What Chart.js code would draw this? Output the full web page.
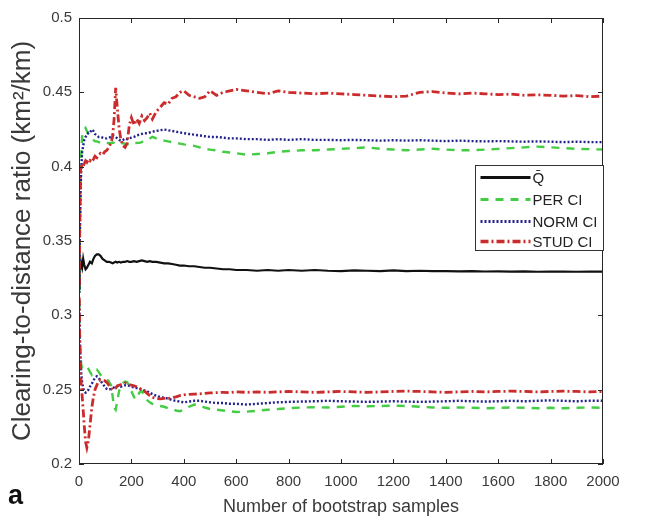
<!DOCTYPE html>
<html>
<head>
<meta charset="utf-8">
<script src="https://cdn.jsdelivr.net/npm/chart.js@4.4.1/dist/chart.umd.min.js"></script>
<style>
  html, body { margin: 0; padding: 0; background: #fff; }
</style>
</head>
<body>
<canvas id="bootChart" width="646" height="522"></canvas>
<script>
// number of bootstrap samples (x)
const samples = [1, 3, 6, 9, 12, 16, 20, 25, 30, 36,
  42, 49, 55, 61, 68, 75, 82, 90, 98, 106,
  114, 122, 128, 134, 140, 146, 153, 160, 168, 176,
  184, 192, 200, 210, 220, 230, 240, 250, 260, 270,
  280, 295, 310, 325, 340, 355, 370, 385, 400, 420,
  440, 460, 480, 500, 525, 550, 575, 600, 640, 680,
  720, 760, 800, 850, 900, 950, 1000, 1050, 1100, 1150,
  1200, 1250, 1300, 1350, 1400, 1450, 1500, 1550, 1600, 1650,
  1700, 1750, 1800, 1850, 1900, 1950, 2000];

// mean ratio Q-bar
const qbar = [0.318, 0.328, 0.337, 0.334, 0.332, 0.338, 0.334, 0.331, 0.332, 0.334,
  0.336, 0.335, 0.338, 0.340, 0.341, 0.341, 0.340, 0.338, 0.337, 0.336,
  0.336, 0.3355, 0.335, 0.3355, 0.336, 0.3355, 0.336, 0.3355, 0.336, 0.336,
  0.3365, 0.336, 0.336, 0.3365, 0.336, 0.3365, 0.337, 0.3365, 0.336, 0.3365,
  0.336, 0.336, 0.3355, 0.335, 0.335, 0.3345, 0.334, 0.3335, 0.3335, 0.333,
  0.333, 0.3325, 0.332, 0.332, 0.3315, 0.331, 0.331, 0.3305, 0.3305, 0.330,
  0.3305, 0.330, 0.3305, 0.330, 0.3305, 0.330, 0.3298, 0.3303, 0.330, 0.3298,
  0.3302, 0.3298, 0.330, 0.3297, 0.3298, 0.3296, 0.3298, 0.3295, 0.3296, 0.3294,
  0.3296, 0.3293, 0.3295, 0.3294, 0.3293, 0.3295, 0.3294];

// percentile CI
const perUpper = [0.315, 0.355, 0.392, 0.410, 0.420, 0.424, 0.425, 0.426, 0.424, 0.422,
  0.420, 0.419, 0.418, 0.417, 0.417, 0.4165, 0.416, 0.416, 0.4165, 0.416,
  0.4158, 0.416, 0.4162, 0.416, 0.4155, 0.416, 0.4158, 0.4155, 0.416, 0.4152,
  0.415, 0.4155, 0.415, 0.4155, 0.416, 0.416, 0.4165, 0.417, 0.418, 0.419,
  0.420, 0.419, 0.418, 0.4175, 0.417, 0.4165, 0.416, 0.4155, 0.415, 0.4145,
  0.414, 0.413, 0.412, 0.4115, 0.411, 0.410, 0.4095, 0.409, 0.408, 0.4085,
  0.409, 0.410, 0.4105, 0.411, 0.411, 0.4115, 0.412, 0.4125, 0.413, 0.412,
  0.4115, 0.411, 0.4115, 0.412, 0.4115, 0.411, 0.411, 0.4115, 0.412, 0.4125,
  0.413, 0.4135, 0.413, 0.4125, 0.412, 0.4118, 0.4115];
const perLower = [0.310, 0.288, 0.272, 0.266, 0.265, 0.2655, 0.266, 0.2665, 0.266, 0.264,
  0.262, 0.260, 0.2615, 0.263, 0.2635, 0.262, 0.260, 0.2585, 0.258, 0.257,
  0.2555, 0.253, 0.246, 0.238, 0.2365, 0.242, 0.249, 0.253, 0.2545, 0.2555,
  0.255, 0.252, 0.249, 0.245, 0.2435, 0.248, 0.249, 0.246, 0.243, 0.2415,
  0.2405, 0.2395, 0.239, 0.2385, 0.2375, 0.237, 0.236, 0.2355, 0.2365, 0.2385,
  0.240, 0.2395, 0.238, 0.237, 0.2365, 0.236, 0.2355, 0.235, 0.2352, 0.2358,
  0.2365, 0.237, 0.2375, 0.238, 0.2382, 0.238, 0.2385, 0.239, 0.2388, 0.239,
  0.2392, 0.239, 0.2385, 0.238, 0.2378, 0.238, 0.2378, 0.2375, 0.2378, 0.238,
  0.2378, 0.2375, 0.2378, 0.2375, 0.2378, 0.238, 0.2378];

// normal CI
const normUpper = [0.315, 0.350, 0.385, 0.400, 0.410, 0.414, 0.418, 0.420, 0.421, 0.423,
  0.423, 0.425, 0.424, 0.422, 0.421, 0.420, 0.420, 0.4195, 0.419, 0.419,
  0.4195, 0.420, 0.421, 0.4205, 0.420, 0.419, 0.418, 0.4175, 0.418, 0.419,
  0.4185, 0.419, 0.4195, 0.420, 0.421, 0.4215, 0.422, 0.4225, 0.4225, 0.423,
  0.4235, 0.424, 0.4245, 0.425, 0.4245, 0.424, 0.4235, 0.423, 0.4225, 0.422,
  0.4215, 0.421, 0.4205, 0.420, 0.420, 0.4195, 0.419, 0.419, 0.4185, 0.4185,
  0.418, 0.4185, 0.418, 0.4185, 0.418, 0.418, 0.4178, 0.418, 0.4178, 0.4175,
  0.4178, 0.4175, 0.4178, 0.4175, 0.4172, 0.4175, 0.4172, 0.417, 0.4172, 0.417,
  0.4168, 0.417, 0.4168, 0.4165, 0.4168, 0.4165, 0.4165];
const normLower = [0.310, 0.285, 0.268, 0.260, 0.255, 0.251, 0.249, 0.248, 0.2485, 0.250,
  0.252, 0.254, 0.256, 0.258, 0.259, 0.258, 0.256, 0.254, 0.252, 0.2505,
  0.250, 0.2505, 0.251, 0.2515, 0.252, 0.2525, 0.2525, 0.252, 0.2525, 0.253,
  0.253, 0.2525, 0.252, 0.2515, 0.251, 0.2505, 0.250, 0.2495, 0.249, 0.248,
  0.247, 0.246, 0.245, 0.2445, 0.244, 0.243, 0.2425, 0.242, 0.2415, 0.242,
  0.2425, 0.2425, 0.242, 0.2415, 0.241, 0.241, 0.2405, 0.2405, 0.240, 0.2405,
  0.241, 0.2415, 0.2418, 0.242, 0.2422, 0.2425, 0.2422, 0.242, 0.2418, 0.242,
  0.2422, 0.242, 0.2418, 0.242, 0.2422, 0.2425, 0.2422, 0.242, 0.2422, 0.2425,
  0.2422, 0.2425, 0.2428, 0.2425, 0.2422, 0.2425, 0.2425];

// studentized CI
const studUpper = [0.320, 0.365, 0.399, 0.402, 0.401, 0.403, 0.402, 0.404, 0.403, 0.405,
  0.404, 0.406, 0.405, 0.407, 0.406, 0.408, 0.409, 0.408, 0.410, 0.411,
  0.413, 0.416, 0.420, 0.432, 0.453, 0.440, 0.426, 0.418, 0.414, 0.413,
  0.416, 0.428, 0.433, 0.428, 0.432, 0.429, 0.434, 0.431, 0.433, 0.436,
  0.432, 0.437, 0.440, 0.443, 0.442, 0.446, 0.447, 0.450, 0.451, 0.448,
  0.447, 0.446, 0.447, 0.451, 0.448, 0.450, 0.451, 0.452, 0.451, 0.450,
  0.449, 0.451, 0.450, 0.4495, 0.449, 0.4495, 0.449, 0.4485, 0.448, 0.4475,
  0.447, 0.4475, 0.450, 0.4505, 0.4495, 0.449, 0.4495, 0.449, 0.4485, 0.4488,
  0.448, 0.4483, 0.448, 0.4475, 0.4478, 0.447, 0.4475];
const studLower = [0.312, 0.280, 0.262, 0.252, 0.246, 0.236, 0.226, 0.215, 0.211, 0.216,
  0.226, 0.238, 0.245, 0.250, 0.253, 0.256, 0.2565, 0.2565, 0.256, 0.255,
  0.253, 0.251, 0.250, 0.2505, 0.251, 0.2525, 0.253, 0.2535, 0.254, 0.2545,
  0.254, 0.2535, 0.253, 0.2525, 0.252, 0.251, 0.250, 0.249, 0.2475, 0.246,
  0.2448, 0.244, 0.2438, 0.2442, 0.244, 0.2445, 0.2452, 0.246, 0.2465, 0.2468,
  0.247, 0.2472, 0.2475, 0.2478, 0.248, 0.2482, 0.248, 0.2485, 0.2482, 0.2485,
  0.2482, 0.2485, 0.2488, 0.2485, 0.2482, 0.2485, 0.2488, 0.2485, 0.2482, 0.2485,
  0.2488, 0.249, 0.2488, 0.2485, 0.2482, 0.2485, 0.2488, 0.2485, 0.2488, 0.249,
  0.2488, 0.2485, 0.2488, 0.249, 0.2488, 0.2485, 0.2488];

const FONT = "'Liberation Sans', Arial, sans-serif";
const TEXT = "#3a3a3a";

const styles = {
  qbar: { color: "#111111", dash: [], width: 2.2 },
  per:  { color: "#44cc44", dash: [8, 7], width: 2.4 },
  norm: { color: "#22228f", dash: [2, 2], width: 2.4 },
  stud: { color: "#cc2b2b", dash: [8, 3, 2, 3], width: 2.8 }
};

const legendItems = [
  { text: "Q\u0304", style: styles.qbar },
  { text: "PER CI", style: styles.per },
  { text: "NORM CI", style: styles.norm },
  { text: "STUD CI", style: styles.stud }
];

function series(values, st, order) {
  return {
    data: samples.map((x, i) => ({ x: x, y: values[i] })),
    borderColor: st.color,
    borderDash: st.dash,
    borderWidth: st.width,
    pointRadius: 0,
    tension: 0,
    fill: false,
    order: order
  };
}

// frame, inward ticks, legend and panel letter
const matlabFrame = {
  id: "matlabFrame",
  afterDraw(chart) {
    const ctx = chart.ctx;
    const a = chart.chartArea;
    const sx = chart.scales.x, sy = chart.scales.y;
    ctx.save();
    ctx.strokeStyle = "#262626";
    ctx.lineWidth = 1;
    ctx.setLineDash([]);
    ctx.strokeRect(Math.round(a.left) + 0.5, Math.round(a.top) + 0.5,
      Math.round(a.width) - 1, Math.round(a.height) - 1);
    ctx.beginPath();
    sx.ticks.forEach(t => {
      const px = Math.round(sx.getPixelForValue(t.value)) + 0.5;
      ctx.moveTo(px, a.bottom); ctx.lineTo(px, a.bottom - 5);
      ctx.moveTo(px, a.top); ctx.lineTo(px, a.top + 5);
    });
    sy.ticks.forEach(t => {
      const py = Math.round(sy.getPixelForValue(t.value)) + 0.5;
      ctx.moveTo(a.left, py); ctx.lineTo(a.left + 5, py);
      ctx.moveTo(a.right, py); ctx.lineTo(a.right - 5, py);
    });
    ctx.stroke();

    // legend box
    const bx = Math.round(a.right) - 127.5, by = Math.round(a.top) + 147.5;
    const bw = 128, bh = 85;
    ctx.fillStyle = "#ffffff";
    ctx.fillRect(bx, by, bw, bh);
    ctx.strokeStyle = "#333333";
    ctx.strokeRect(bx, by, bw, bh);
    ctx.font = "15px " + FONT;
    ctx.textBaseline = "middle";
    ctx.textAlign = "left";
    const rows = [12, 34, 56, 76];
    legendItems.forEach((it, i) => {
      const y = by + rows[i];
      ctx.strokeStyle = it.style.color;
      ctx.lineWidth = it.style.width + 0.6;
      ctx.setLineDash(it.style.dash);
      ctx.beginPath();
      ctx.moveTo(bx + 5, y);
      ctx.lineTo(bx + 55, y);
      ctx.stroke();
      ctx.fillStyle = "#222222";
      ctx.fillText(it.text, bx + 57, y + 1);
    });

    // panel letter
    ctx.setLineDash([]);
    ctx.fillStyle = "#111111";
    ctx.font = "bold 27px " + FONT;
    ctx.textBaseline = "alphabetic";
    ctx.fillText("a", 8, 504);
    ctx.restore();
  }
};

new Chart(document.getElementById("bootChart"), {
  type: "line",
  data: {
    datasets: [
      series(studUpper, styles.stud, 0),
      series(studLower, styles.stud, 0),
      series(normUpper, styles.norm, 1),
      series(normLower, styles.norm, 1),
      series(perUpper, styles.per, 2),
      series(perLower, styles.per, 2),
      series(qbar, styles.qbar, 3)
    ]
  },
  options: {
    responsive: false,
    animation: false,
    layout: { padding: { top: 18, right: 43, left: 0, bottom: 0 } },
    plugins: { legend: { display: false }, tooltip: { enabled: false } },
    scales: {
      x: {
        type: "linear",
        min: 0, max: 2000,
        afterFit: s => { s.height = 58; },
        grid: { display: false, drawTicks: false },
        border: { display: false },
        ticks: { stepSize: 200, padding: 9, color: TEXT, font: { family: FONT, size: 15 }, maxRotation: 0,
          callback: v => String(v) },
        title: { display: true, text: "Number of bootstrap samples", color: TEXT,
          font: { family: FONT, size: 18 }, padding: { top: 0, bottom: 4 } }
      },
      y: {
        min: 0.2, max: 0.5,
        afterFit: s => { s.width = 79; },
        grid: { display: false, drawTicks: false },
        border: { display: false },
        ticks: { stepSize: 0.05, padding: 7, color: TEXT, font: { family: FONT, size: 15 },
          callback: v => String(+v.toFixed(2)) },
        title: { display: true, text: "Clearing-to-distance ratio (km\u00b2/km)", color: TEXT,
          font: { family: FONT, size: 26 }, padding: { top: 7, bottom: 0 } }
      }
    }
  },
  plugins: [matlabFrame]
});
</script>
</body>
</html>
